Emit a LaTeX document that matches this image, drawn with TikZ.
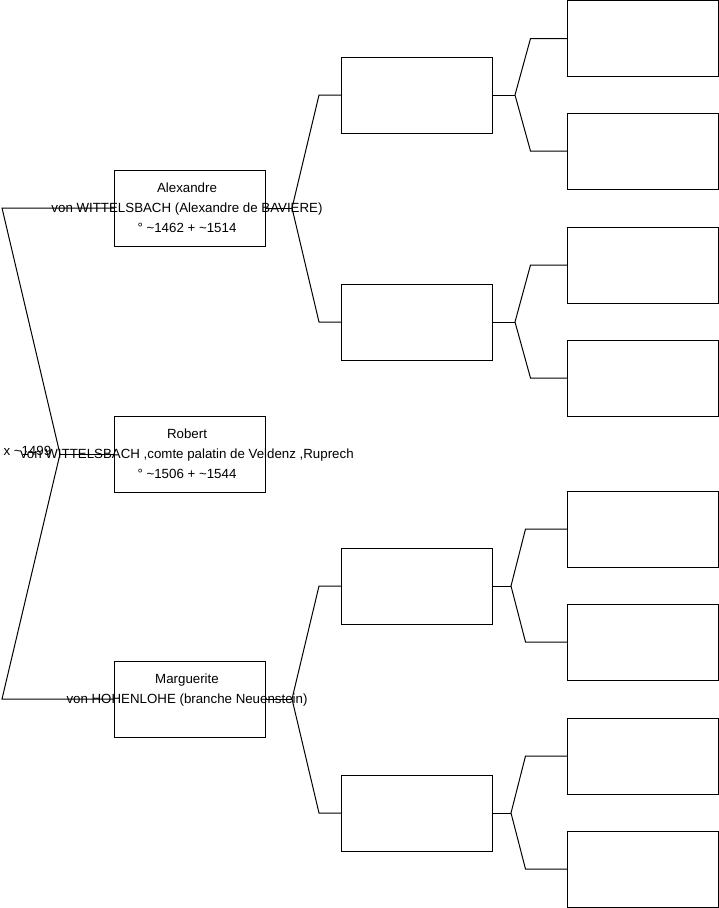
\documentclass[tikz,border=0pt]{standalone}
\usepackage{fontspec}
\setmainfont{Liberation Sans}
\begin{document}
\begin{tikzpicture}[x=1pt,y=-1pt,line width=1pt,
  person/.style={draw,minimum width=151pt,minimum height=76pt,inner sep=0pt,outer sep=0pt},
  lbl/.style={align=center,font=\fontsize{13.3}{20}\selectfont,inner sep=0pt}]
\useasboundingbox (0,0) rectangle (719,908);
% generation 1
\node[person] (a) at (189.5,208) {};
\node[person] (r) at (189.5,454) {};
\node[person] (m) at (189.5,699) {};
% generation 2
\node[person] (p1) at (416.5,95) {};
\node[person] (p2) at (416.5,322) {};
\node[person] (p3) at (416.5,586) {};
\node[person] (p4) at (416.5,813) {};
% generation 3
\node[person] (q1) at (643,38.5) {};
\node[person] (q2) at (643,151) {};
\node[person] (q3) at (643,265) {};
\node[person] (q4) at (643,378) {};
\node[person] (q5) at (643,529) {};
\node[person] (q6) at (643,642) {};
\node[person] (q7) at (643,756) {};
\node[person] (q8) at (643,869) {};
% connectors, left
\coordinate (lt) at (2,208);
\coordinate (lb) at (2,699);
\coordinate (lx) at (60,454);
\draw (a.west) -- (lt) -- (lx) -- (lb) -- (m.west);
\draw (lx) -- (r.west);
% forks to generation 2
\coordinate (fa) at (292,208);
\coordinate (fm) at (292,699);
\draw (a.east) -- (fa);
\draw (p1.west) -- ++(-22,0) -- (fa) -- ([xshift=-22pt]p2.west) -- (p2.west);
\draw (m.east) -- (fm);
\draw (p3.west) -- ++(-22,0) -- (fm) -- ([xshift=-22pt]p4.west) -- (p4.west);
% forks to generation 3
\coordinate (f1) at (515,95);
\coordinate (f2) at (515,322);
\coordinate (f3) at (511,586);
\coordinate (f4) at (511,813);
\draw (p1.east) -- (f1);
\draw (q1.west) -- ++(-37,0) -- (f1) -- ([xshift=-37pt]q2.west) -- (q2.west);
\draw (p2.east) -- (f2);
\draw (q3.west) -- ++(-37,0) -- (f2) -- ([xshift=-37pt]q4.west) -- (q4.west);
\draw (p3.east) -- (f3);
\draw (q5.west) -- ++(-42,0) -- (f3) -- ([xshift=-42pt]q6.west) -- (q6.west);
\draw (p4.east) -- (f4);
\draw (q7.west) -- ++(-42,0) -- (f4) -- ([xshift=-42pt]q8.west) -- (q8.west);
% texts
\node[lbl] (ta) at ([xshift=-2.5pt]a.center) {\strut Alexandre\\\strut von WITTELSBACH (Alexandre de BAVIERE)\\\strut ° \textasciitilde1462 + \textasciitilde1514};
\node[lbl] (tr) at ([xshift=-2.5pt]r.center) {\strut Robert\\\strut von WITTELSBACH ,comte palatin de Veldenz ,Ruprech\\\strut ° \textasciitilde1506 + \textasciitilde1544};
\node[lbl] (tm) at ([xshift=-2.5pt]m.center) {\strut Marguerite\\\strut von HOHENLOHE (branche Neuenstein)\\\strut};
\node[lbl,anchor=west] (tx) at (3,451) {x \textasciitilde1499};
\end{tikzpicture}
\end{document}
